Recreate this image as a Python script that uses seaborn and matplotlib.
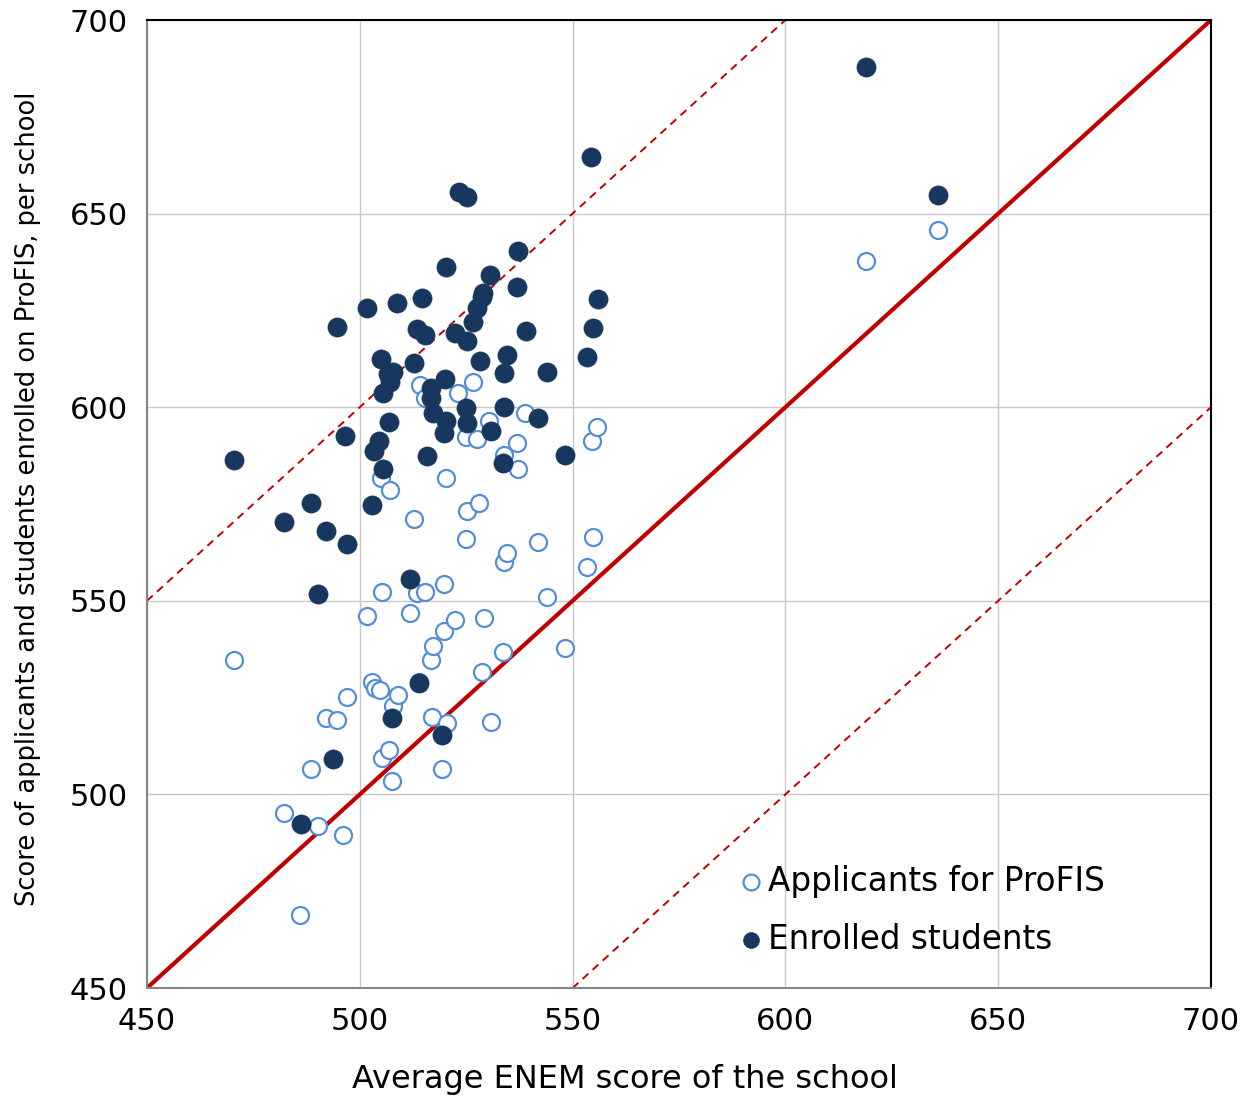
import numpy as np
import pandas as pd
import matplotlib.pyplot as plt
import seaborn as sns

# ==========================================
# Data
# ==========================================

# Applicants for ProFIS (open circles)
app_x = [470.4, 482.2, 488.5, 490.2, 492.1, 486.0, 494.6, 496.1, 497.0, 501.7,
         502.9, 503.6, 504.7, 505.0, 505.2, 505.2, 507.1, 506.9, 507.6, 507.8,
         509.0, 511.8, 512.7, 513.4, 513.9, 514.1, 515.3, 515.3, 516.7, 517.0,
         517.2, 519.3, 519.8, 519.8, 520.3, 520.5, 522.4, 523.1, 525.0, 525.0,
         525.2, 526.6, 527.5, 528.0, 528.7, 529.2, 530.4, 530.8, 533.6, 533.9,
         533.9, 534.6, 536.9, 537.2, 538.8, 541.9, 544.0, 548.2, 553.4, 554.6,
         554.8, 555.7, 618.9, 635.9]
app_y = [534.7, 495.2, 506.6, 491.8, 519.7, 468.9, 519.2, 489.5, 525.2, 546.1,
         529.0, 527.5, 527.0, 581.7, 552.3, 509.4, 578.6, 511.5, 503.5, 522.8,
         525.7, 546.9, 571.1, 552.0, 529.0, 605.7, 552.3, 602.4, 534.7, 520.0,
         538.3, 506.6, 542.2, 554.3, 581.7, 518.4, 545.0, 603.7, 592.3, 566.0,
         573.2, 606.5, 591.8, 575.3, 531.6, 545.6, 596.4, 518.7, 536.8, 587.7,
         560.0, 562.3, 590.8, 584.0, 598.5, 565.2, 551.0, 537.8, 558.7, 591.3,
         566.5, 594.9, 637.8, 645.8]

# Enrolled students (filled circles)
enr_x = [470.4, 482.2, 488.5, 490.2, 492.1, 486.2, 493.7, 494.6, 496.5, 497.0,
         501.7, 502.9, 503.3, 504.5, 505.0, 505.5, 505.5, 506.6, 507.1, 507.8,
         506.9, 507.6, 508.7, 511.8, 512.7, 513.4, 513.9, 514.6, 515.3, 515.8,
         516.7, 516.7, 517.2, 519.3, 520.0, 520.3, 519.8, 520.3, 522.4, 523.3,
         525.0, 525.2, 525.2, 525.2, 526.6, 527.5, 528.2, 529.0, 528.7, 530.6,
         530.8, 533.9, 533.6, 534.6, 533.9, 536.9, 537.2, 539.1, 541.9, 544.0,
         548.2, 553.4, 554.3, 554.8, 556.0, 618.9, 635.9]
enr_y = [586.4, 570.4, 575.3, 551.8, 568.0, 492.4, 509.1, 620.7, 592.6, 564.7,
         625.6, 574.7, 588.7, 591.3, 612.5, 603.7, 584.0, 608.6, 606.5, 609.1,
         596.2, 519.7, 626.9, 555.6, 611.4, 620.2, 528.8, 628.2, 618.6, 587.4,
         605.0, 602.4, 598.5, 515.3, 607.3, 596.4, 593.3, 636.2, 619.2, 655.6,
         599.8, 595.9, 617.1, 654.3, 622.0, 625.6, 611.9, 629.5, 628.5, 634.1,
         593.9, 600.1, 585.6, 613.5, 608.8, 631.0, 640.3, 619.7, 597.2, 609.1,
         587.7, 613.0, 664.6, 620.5, 627.9, 687.9, 654.8]

axis_ticks = [450, 500, 550, 600, 650, 700]
ref_line = [450, 700]
band = 100

x_title = "Average ENEM score of the school"
y_title = "Score of applicants and students enrolled on ProFIS, per school"

df_app = pd.DataFrame({"x": app_x, "y": app_y})
df_enr = pd.DataFrame({"x": enr_x, "y": enr_y})

# ==========================================
# Plot
# ==========================================

sns.set_style("white")
plt.rcParams["font.family"] = ["DejaVu Sans"]
plt.rcParams["text.color"] = "black"
plt.rcParams["axes.labelcolor"] = "black"
plt.rcParams["xtick.labelcolor"] = "black"
plt.rcParams["ytick.labelcolor"] = "black"

fig = plt.figure(figsize=(12.43, 10.97), dpi=100)
ax = fig.add_axes([147 / 1243, 1 - 988 / 1097, 1064 / 1243, 968 / 1097])

red = "#C00000"
ref = np.array(ref_line)
ax.plot(ref, ref, color=red, lw=3.0, zorder=2, solid_capstyle="butt")
ax.plot(ref, ref + band, color=red, lw=1.4, ls=(0, (4, 3)), zorder=2)
ax.plot(ref, ref - band, color=red, lw=1.4, ls=(0, (4, 3)), zorder=2)

sns.scatterplot(data=df_app, x="x", y="y", ax=ax, s=150, facecolor="white",
                edgecolor="#558ED5", linewidth=1.6, zorder=3,
                label="Applicants for ProFIS")
sns.scatterplot(data=df_enr, x="x", y="y", ax=ax, s=190, color="#17375E",
                edgecolor="#17375E", linewidth=0.5, zorder=4,
                label="Enrolled students")

ax.set_xlim(450, 700)
ax.set_ylim(450, 700)
ax.set_xticks(axis_ticks)
ax.set_yticks(axis_ticks)
ax.grid(True, color="#C8C8C8", lw=1.0, zorder=0)
ax.set_axisbelow(True)

for side in ["left", "bottom"]:
    ax.spines[side].set_color("#868686")
    ax.spines[side].set_linewidth(1.5)
for side in ["top", "right"]:
    ax.spines[side].set_color("black")
    ax.spines[side].set_linewidth(1.5)

ax.tick_params(axis="both", direction="out", length=9, width=1.5,
               color="#868686", labelsize=22, pad=5)

ax.set_xlabel(x_title, fontsize=23)
ax.set_ylabel(y_title, fontsize=18.5)
ax.xaxis.set_label_coords((625 - 147) / 1064, -0.079)
ax.yaxis.set_label_coords((41 - 147) / 1064, 0.505)

leg = ax.legend(loc="upper left", bbox_to_anchor=(0.525, 0.141), frameon=False,
                fontsize=23.5, handletextpad=-0.5, labelspacing=0.78,
                borderaxespad=0)
for h in leg.legend_handles:
    h.set_sizes([130])

plt.savefig("out.png", dpi=100)
plt.close()
